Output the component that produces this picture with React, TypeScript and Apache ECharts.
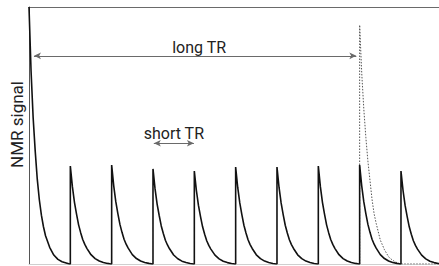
import React, { useEffect, useRef } from "react";
import * as echarts from "echarts";

// Times (in units of short TR) at which each excitation starts
const SPIKE_TIMES = [0, 1, 2, 3, 4, 5, 6, 7, 8, 9];
// Peak signal of each excitation (first is full magnetisation)
const SPIKE_PEAKS = [1.0, 0.381, 0.385, 0.37, 0.362, 0.377, 0.377, 0.381, 0.385, 0.362];
// Offsets after each excitation at which the decay was read
const DECAY_OFFSETS = [0, 0.05, 0.1, 0.15, 0.2, 0.25, 0.3, 0.35, 0.4, 0.5, 0.6, 0.7, 0.8, 0.9, 0.98];
// Decay shape of the first (full) signal, relative to its peak
const FIRST_DECAY_SHAPE = [1, 0.75, 0.57, 0.44, 0.33, 0.25, 0.19, 0.145, 0.11, 0.065, 0.035, 0.018, 0.009, 0.004, 0];
// Decay shape of the short-TR signals, relative to their peak
const SHORT_DECAY_SHAPE = [1, 0.79, 0.63, 0.51, 0.4, 0.32, 0.25, 0.2, 0.16, 0.095, 0.055, 0.03, 0.015, 0.006, 0];
// Decay shape of the long-TR signal (dotted), relative to its peak
const LONG_DECAY_SHAPE = [1, 0.8, 0.65, 0.53, 0.43, 0.35, 0.27, 0.21, 0.17, 0.1, 0.06, 0.03, 0.015, 0.006, 0];
// Long TR signal (dotted)
const LONG_TR_TIME = 8;
const LONG_TR_PEAK = 0.93;

// Annotations
const LONG_TR_ARROW = { from: 0.12, to: 7.92, y: 0.81, label: "long TR" };
const SHORT_TR_ARROW = { from: 3.02, to: 3.99, y: 0.47, label: "short TR" };

const X_MAX = 9.92;

function buildMain(): number[][] {
  const pts: number[][] = [];
  SPIKE_TIMES.forEach((t, i) => {
    const shape = i === 0 ? FIRST_DECAY_SHAPE : SHORT_DECAY_SHAPE;
    if (i > 0) pts.push([t, 0]);
    DECAY_OFFSETS.forEach((o, j) => {
      pts.push([t + o, SPIKE_PEAKS[i] * shape[j]]);
    });
  });
  return pts;
}

function buildLong(): number[][] {
  const pts: number[][] = [[LONG_TR_TIME, 0]];
  DECAY_OFFSETS.forEach((o, j) => {
    pts.push([LONG_TR_TIME + o, LONG_TR_PEAK * LONG_DECAY_SHAPE[j]]);
  });
  pts.push([X_MAX, 0]);
  return pts;
}

const FONT = "Roboto, 'Open Sans', sans-serif";

export default function App() {
  const ref = useRef<HTMLDivElement>(null);
  useEffect(() => {
    if (!ref.current) return;
    const chart = echarts.init(ref.current, undefined, { renderer: "svg" });
    const arrowLine = (a: typeof LONG_TR_ARROW, pad: number[]) => ({
      silent: true,
      symbol: ["arrow", "arrow"],
      symbolSize: [5, 7],
      lineStyle: { color: "#6a6a6a", width: 1, type: "solid" },
      label: {
        show: true,
        position: "middle",
        formatter: a.label,
        color: "#222",
        fontFamily: FONT,
        fontSize: 16,
        distance: 0,
        padding: pad,
      },
      data: [[{ coord: [a.from, a.y] }, { coord: [a.to, a.y] }]],
    });
    chart.setOption({
      animation: false,
      grid: { left: 27, right: 0, top: 7, bottom: 2 },
      xAxis: [
        {
          type: "value",
          min: 0,
          max: X_MAX,
          axisLine: { show: true, lineStyle: { color: "#cfcfcf", width: 1 } },
          axisTick: { show: false },
          axisLabel: { show: false },
          splitLine: { show: false },
        },
        {
          type: "value",
          position: "top",
          min: 0,
          max: X_MAX,
          axisLine: { show: true, lineStyle: { color: "#6a6a6a", width: 1 } },
          axisTick: { show: false },
          axisLabel: { show: false },
          splitLine: { show: false },
        },
      ],
      yAxis: {
        type: "value",
        min: 0,
        max: 1,
        name: "NMR signal",
        nameLocation: "middle",
        nameGap: 4,
        nameTextStyle: {
          color: "#222",
          fontSize: 17,
          fontFamily: FONT,
          padding: [0, 0, 0, 22],
        },
        axisLine: { show: true, lineStyle: { color: "#555", width: 1 } },
        axisTick: { show: false },
        axisLabel: { show: false },
        splitLine: { show: false },
      },
      series: [
        {
          type: "line",
          data: buildLong(),
          symbol: "none",
          lineStyle: { color: "#555", width: 1, type: [1.5, 1.5] },
          z: 1,
        },
        {
          type: "line",
          data: buildMain(),
          symbol: "none",
          lineStyle: { color: "#111", width: 1.6 },
          z: 2,
          markLine: arrowLine(LONG_TR_ARROW, [0, 0, 0, 8]),
        },
        {
          type: "line",
          data: [],
          symbol: "none",
          markLine: arrowLine(SHORT_TR_ARROW, [0, 0, 2, 0]),
        },
      ],
    });
    return () => chart.dispose();
  }, []);
  return (
    <div
      ref={ref}
      style={{ position: "absolute", left: 0, top: 0, width: 439, height: 266 }}
    />
  );
}
